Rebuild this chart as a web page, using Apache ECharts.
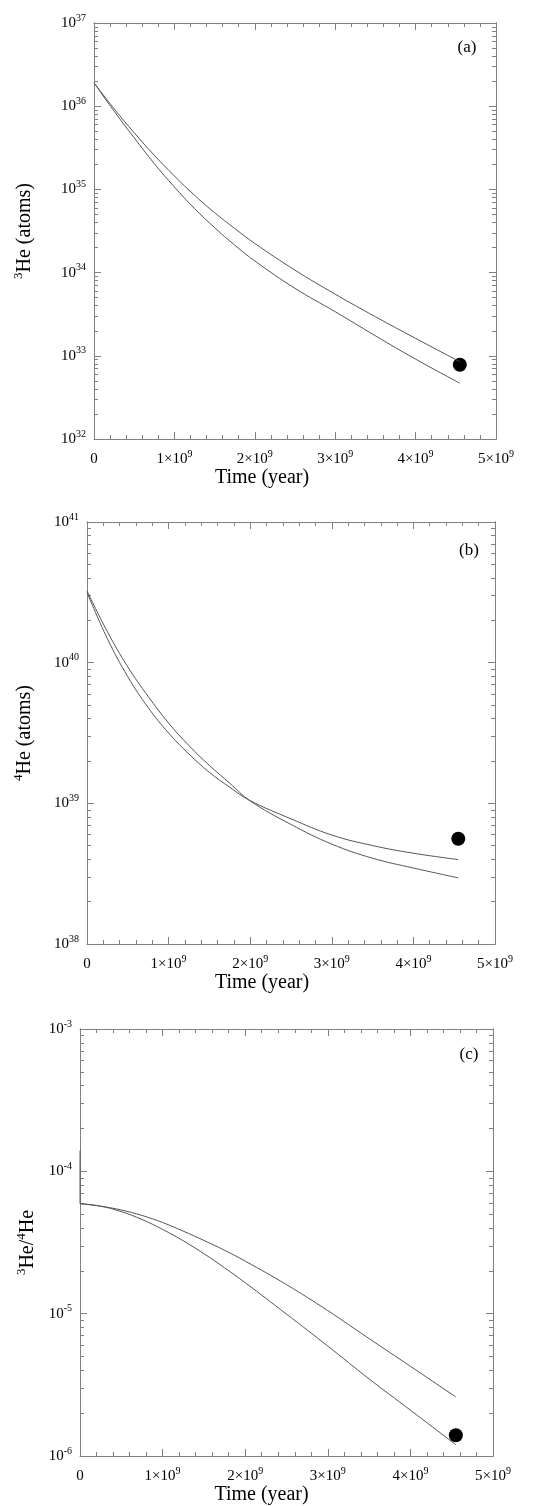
<!DOCTYPE html>
<html>
<head>
<meta charset="utf-8">
<script src="https://cdn.jsdelivr.net/npm/echarts@6/dist/echarts.min.js"></script>
<style>
html, body { margin: 0; padding: 0; background: #fff; }
#chart { width: 543px; height: 1506px; }
</style>
</head>
<body>
<div id="chart"></div>
<script>
// time (year), shared by all three panels
let years = [0, 0.25e9, 0.5e9, 0.75e9, 1e9, 1.25e9, 1.5e9, 1.75e9, 2e9, 2.5e9, 3e9, 3.5e9, 4e9, 4.55e9]

// (a) 3He (atoms)
let he3Upper = [1.91e36, 9.33e35, 4.79e35, 2.57e35, 1.45e35, 8.51e34, 5.25e34, 3.39e34, 2.24e34, 1.07e34, 5.5e33, 2.95e33, 1.62e33, 8.5e32]
let he3Lower = [1.91e36, 8.71e35, 4.17e35, 2.04e35, 1.07e35, 5.89e34, 3.47e34, 2.14e34, 1.38e34, 6.46e33, 3.39e33, 1.74e33, 9.12e32, 4.68e32]
let he3Today = [4.55e9, 7.8e32]

// (b) 4He (atoms)
let he4A = [3.24e40, 1.66e40, 9.33e39, 5.75e39, 3.72e39, 2.57e39, 1.86e39, 1.39e39, 1.04e39, 7.08e38, 5.13e38, 4.07e38, 3.47e38, 2.95e38]
let he4B = [3.16e40, 1.48e40, 7.94e39, 4.79e39, 3.16e39, 2.24e39, 1.66e39, 1.3e39, 1.045e39, 7.76e38, 5.95e38, 5.01e38, 4.42e38, 3.98e38]
let he4Today = [4.55e9, 5.6e38]

// (c) 3He/4He
let ratioUpper = [5.93e-5, 5.69e-5, 5.35e-5, 4.9e-5, 4.37e-5, 3.8e-5, 3.27e-5, 2.79e-5, 2.34e-5, 1.6e-5, 1.05e-5, 6.68e-6, 4.27e-6, 2.6e-6]
let ratioLower = [5.93e-5, 5.69e-5, 5.21e-5, 4.59e-5, 3.91e-5, 3.25e-5, 2.64e-5, 2.1e-5, 1.65e-5, 9.93e-6, 5.92e-6, 3.48e-6, 2.1e-6, 1.2e-6]
let ratioStart = [1.4e-4, 5.93e-5]
let ratioToday = [4.55e9, 1.4e-6]

let serif = '"Liberation Serif", "Times New Roman", serif'
let axisColor = '#808080'
let lineColor = '#555'

function decades(lo, hi) {
    let v = []
    for (let e = lo; e <= hi; e++) v.push(Number('1e' + e))
    return v
}

function minors(lo, hi) {
    let v = []
    for (let e = lo; e < hi; e++) {
        for (let k = 2; k < 10; k++) v.push(Number(k + 'e' + e))
    }
    return v
}

function pairs(xs, ys) {
    return xs.map(function(x, i) { return [x, ys[i]] })
}

let tickRich = {
    n: { fontFamily: serif, fontSize: 15, lineHeight: 20, color: '#000' },
    s: { fontFamily: serif, fontSize: 10, lineHeight: 10, verticalAlign: 'top', color: '#000' }
}
let nameRich = {
    n: { fontFamily: serif, fontSize: 20, lineHeight: 26, color: '#000' },
    s: { fontFamily: serif, fontSize: 13, lineHeight: 13, verticalAlign: 'top', color: '#000' }
}

let panels = [{
    grid: { left: 94, top: 23, width: 402, height: 416 },
    lo: 32, hi: 37,
    yName: '{s|3}{n|He (atoms)}', yGap: 56, xPad: 66,
    tag: '(a)', tagX: 467, tagY: 48,
    lines: [pairs(years, he3Upper), pairs(years, he3Lower)],
    dot: he3Today
}, {
    grid: { left: 87, top: 522, width: 408, height: 422 },
    lo: 38, hi: 41,
    yName: '{s|4}{n|He (atoms)}', yGap: 49, xPad: 58,
    tag: '(b)', tagX: 469, tagY: 551,
    lines: [pairs(years, he4A), pairs(years, he4B)],
    dot: he4Today
}, {
    grid: { left: 80, top: 1029, width: 413, height: 428 },
    lo: -6, hi: -3,
    yName: '{s|3}{n|He/}{s|4}{n|He}', yGap: 38, xPad: 50,
    tag: '(c)', tagX: 469, tagY: 1055,
    lines: [pairs(years, ratioUpper), pairs(years, ratioLower), [[0, ratioStart[0]], [0, ratioStart[1]]]],
    dot: ratioToday
}]

let option = {
    animation: false,
    backgroundColor: '#fff',
    grid: [],
    xAxis: [],
    yAxis: [],
    series: [],
    graphic: []
}

panels.forEach(function(p, gi) {
    option.grid.push(p.grid)

    let xBase = {
        gridIndex: gi,
        type: 'value',
        min: 0,
        max: 5e9,
        interval: 1e9,
        splitLine: { show: false },
        axisLine: { lineStyle: { color: axisColor, width: 1 } },
        axisTick: { inside: true, length: 7, lineStyle: { color: axisColor } },
        minorTick: { show: true, splitNumber: 5, length: 4, lineStyle: { color: axisColor } }
    }
    option.xAxis.push(Object.assign({}, xBase, {
        position: 'bottom',
        name: 'Time (year)',
        nameLocation: 'middle',
        nameGap: 29,
        nameTextStyle: { fontFamily: serif, fontSize: 20, color: '#000', padding: [0, p.xPad, 0, 0] },
        axisLabel: {
            margin: 10,
            formatter: function(v) {
                if (v === 0) return '{n|0}'
                return '{n|' + Math.round(v / 1e9) + '×10}{s|9}'
            },
            rich: tickRich
        }
    }))
    option.xAxis.push(Object.assign({}, xBase, {
        position: 'top',
        axisLabel: { show: false }
    }))

    let yBase = {
        gridIndex: gi,
        type: 'log',
        logBase: 10,
        min: Number('1e' + p.lo),
        max: Number('1e' + p.hi),
        splitLine: { show: false },
        axisLine: { lineStyle: { color: axisColor, width: 1 } }
    }
    let majorTick = { inside: true, length: 7, lineStyle: { color: axisColor }, customValues: decades(p.lo, p.hi) }
    let minorTickAxis = { inside: true, length: 4, lineStyle: { color: axisColor }, customValues: minors(p.lo, p.hi) }

    option.yAxis.push(Object.assign({}, yBase, {
        position: 'left',
        name: p.yName,
        nameLocation: 'middle',
        nameGap: p.yGap,
        nameTextStyle: { rich: nameRich },
        axisTick: majorTick,
        axisLabel: {
            margin: 8,
            customValues: decades(p.lo, p.hi),
            formatter: function(v) {
                return '{n|10}{s|' + Math.round(Math.log10(v)) + '}'
            },
            rich: tickRich
        }
    }))
    option.yAxis.push(Object.assign({}, yBase, {
        position: 'left',
        axisTick: minorTickAxis,
        axisLabel: { show: false }
    }))
    option.yAxis.push(Object.assign({}, yBase, {
        position: 'right',
        axisTick: majorTick,
        axisLabel: { show: false }
    }))
    option.yAxis.push(Object.assign({}, yBase, {
        position: 'right',
        axisTick: minorTickAxis,
        axisLabel: { show: false }
    }))

    p.lines.forEach(function(d) {
        option.series.push({
            type: 'line',
            xAxisIndex: gi * 2,
            yAxisIndex: gi * 4,
            data: d,
            smooth: 0.4,
            showSymbol: false,
            lineStyle: { color: lineColor, width: 1 }
        })
    })
    option.series.push({
        type: 'scatter',
        xAxisIndex: gi * 2,
        yAxisIndex: gi * 4,
        data: [p.dot],
        symbolSize: 14,
        itemStyle: { color: '#000', opacity: 1 }
    })

    option.graphic.push({
        type: 'text',
        x: p.tagX,
        y: p.tagY,
        style: {
            text: p.tag,
            fontFamily: serif,
            fontSize: 17,
            fill: '#000',
            align: 'center',
            verticalAlign: 'middle'
        }
    })
})

let myChart = echarts.init(document.getElementById('chart'))
myChart.setOption(option)
</script>
</body>
</html>
